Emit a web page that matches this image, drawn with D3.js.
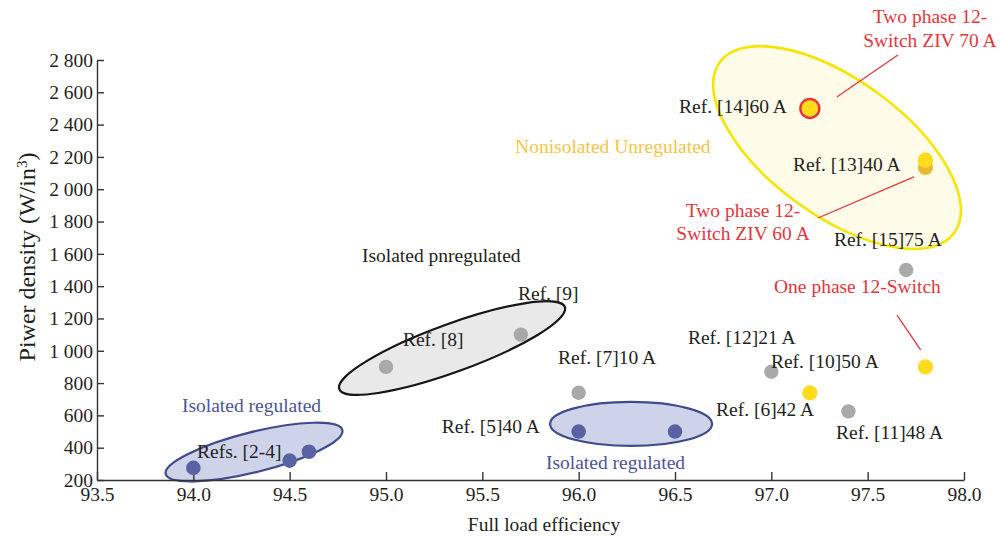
<!DOCTYPE html>
<html>
<head>
<meta charset="utf-8">
<script src="https://cdn.jsdelivr.net/npm/d3@7"></script>
<style>
  body { margin: 0; background: #fff; }
  svg text { font-family: "Liberation Serif", "Times New Roman", serif; }
</style>
</head>
<body>
<svg id="chart" width="1000" height="537"></svg>
<script>
// ---- axis ticks ----
const xTicks = [93.5, 94.0, 94.5, 95.0, 95.5, 96.0, 96.5, 97.0, 97.5, 98.0];
const yTicks = [200, 400, 600, 800, 1000, 1200, 1400, 1600, 1800, 2000, 2200, 2400, 2600, 2800];

// ---- converters: full load efficiency (%) vs power density (W/in^3) ----
// isolated regulated (blue)
const blueEff     = [94.0, 94.5, 94.6, 96.0, 96.5];
const blueDensity = [275, 320, 375, 500, 500];
// isolated unregulated and other references (gray)
const grayEff     = [95.0, 95.7, 96.0, 97.0, 97.4, 97.7];
const grayDensity = [900, 1100, 740, 870, 625, 1500];
// nonisolated (yellow)
const goldEff       = [97.8];
const goldDensity   = [2135];
const yellowEff     = [97.2, 97.8, 97.8];
const yellowDensity = [740, 900, 2180];
// highlighted design, ref. [14]
const ringEff     = [97.2];
const ringDensity = [2500];

// ---- group outlines: centre in data units, radii in px ----
const groupCx  = [94.315, 95.343, 96.272, 97.341];
const groupCy  = [373, 1017, 547, 2258];
const groupRx  = [91, 120, 81, 145];
const groupRy  = [20, 24, 22, 68];
const groupRot = [-14, -20, 0, 36];
const groupKind = ["blue", "gray", "blue", "yellow"];

// ---- annotation texts (anchored in data units) ----
const labelText = [
  "Refs. [2-4]", "Isolated regulated", "Isolated pnregulated", "Ref. [9]", "Ref. [8]",
  "Ref. [7]10 A", "Ref. [5]40 A", "Isolated regulated", "Ref. [15]75 A", "One phase 12-Switch",
  "Ref. [12]21 A", "Ref. [10]50 A", "Ref. [6]42 A", "Ref. [11]48 A",
  "Two phase 12-", "Switch ZIV 70 A", "Ref. [14]60 A", "Ref. [13]40 A",
  "Two phase 12-", "Switch ZIV 60 A", "Nonisolated Unregulated"
];
const labelX = [
  94.019, 93.941, 94.875, 95.685, 95.088,
  95.893, 95.290, 95.830, 97.325, 97.014,
  96.567, 96.998, 96.713, 97.336,
  97.823, 97.823, 96.521, 97.112,
  96.853, 96.853, 95.670
];
const labelY = [
  336, 621, 1550, 1314, 1030,
  918, 491, 268, 1649, 1358,
  1042, 893, 596, 454,
  3029, 2880, 2472, 2113,
  1828, 1686, 2224
];
const labelKind = [
  "black", "blue", "black", "black", "black",
  "black", "black", "blue", "black", "red",
  "black", "black", "black", "black",
  "redc", "redc", "black", "black",
  "redc", "redc", "orange"
];

// ---- red leader lines ----
const leaderX1 = [97.657, 97.740, 97.652];
const leaderY1 = [2831, 2076, 1221];
const leaderX2 = [97.340, 97.242, 97.775];
const leaderY2 = [2571, 1822, 1005];

const FONT = "'Liberation Serif', 'Times New Roman', serif";
const svg = d3.select("#chart");
const x = d3.scaleLinear().domain([93.5, 98.0]).range([97, 964]);
const y = d3.scaleLinear().domain([200, 2800]).range([480, 60]);

const colors = {
  blueFill: "#cfd3ea", blueStroke: "#3e4a8d", blueDot: "#5963a3", blueText: "#4b5597",
  grayFill: "#e9e9e9", grayStroke: "#151515", grayDot: "#a9a9a9",
  yellowFill: "#fffbe9", yellowStroke: "#f6e500", yellowDot: "#fedb1c", goldDot: "#e9b934",
  red: "#e5353c", orange: "#f7c449", black: "#231f20", axis: "#333333"
};

// group outlines
const ellipseStyle = {
  blue:   { fill: colors.blueFill,   stroke: colors.blueStroke,   w: 2.2 },
  gray:   { fill: colors.grayFill,   stroke: colors.grayStroke,   w: 2.2 },
  yellow: { fill: colors.yellowFill, stroke: colors.yellowStroke, w: 2.6 }
};
svg.append("g").selectAll("ellipse")
  .data(groupCx.map((cx, i) => ({ cx, cy: groupCy[i], rx: groupRx[i], ry: groupRy[i], rot: groupRot[i], kind: groupKind[i] })))
  .join("ellipse")
  .attr("transform", d => `translate(${x(d.cx)},${y(d.cy)}) rotate(${d.rot})`)
  .attr("rx", d => d.rx).attr("ry", d => d.ry)
  .attr("fill", d => ellipseStyle[d.kind].fill)
  .attr("stroke", d => ellipseStyle[d.kind].stroke)
  .attr("stroke-width", d => ellipseStyle[d.kind].w);

// axes
const fmtY = d3.formatLocale({ decimal: ".", thousands: " ", grouping: [3], currency: ["", ""] }).format(",");
const xAxis = d3.axisBottom(x).tickValues(xTicks).tickFormat(d3.format(".1f"))
  .tickSizeInner(-8).tickSizeOuter(0).tickPadding(7);
const yAxis = d3.axisLeft(y).tickValues(yTicks).tickFormat(fmtY)
  .tickSizeInner(-7).tickSizeOuter(0).tickPadding(4);

const gx = svg.append("g").attr("transform", `translate(0,${y(200)})`).call(xAxis);
const gy = svg.append("g").attr("transform", `translate(${x(93.5)},0)`).call(yAxis);
[gx, gy].forEach(g => {
  g.attr("font-family", FONT).attr("font-size", 19.5);
  g.select(".domain").attr("stroke", colors.axis).attr("stroke-width", 1.4);
  g.selectAll(".tick line").attr("stroke", colors.axis).attr("stroke-width", 1.4);
  g.selectAll(".tick text").attr("fill", colors.black);
});

// axis titles
svg.append("text")
  .attr("x", 544).attr("y", 531).attr("text-anchor", "middle")
  .attr("fill", colors.black).style("font-size", "19.5px")
  .text("Full load efficiency");
const yt = svg.append("text")
  .attr("transform", "translate(35,257) rotate(-90)").attr("text-anchor", "middle")
  .attr("fill", colors.black).style("font-size", "24px");
yt.append("tspan").text("Piwer density (W/in");
yt.append("tspan").attr("baseline-shift", "super").style("font-size", "15px").text("3");
yt.append("tspan").text(")");

// leader lines
svg.append("g").selectAll("line")
  .data(leaderX1.map((v, i) => ({ x1: v, y1: leaderY1[i], x2: leaderX2[i], y2: leaderY2[i] })))
  .join("line")
  .attr("x1", d => x(d.x1)).attr("y1", d => y(d.y1))
  .attr("x2", d => x(d.x2)).attr("y2", d => y(d.y2))
  .attr("stroke", colors.red).attr("stroke-width", 1.3);

// points
function dots(effs, dens, fill, r) {
  svg.append("g").selectAll("circle")
    .data(effs.map((e, i) => ({ e, d: dens[i] })))
    .join("circle")
    .attr("cx", d => x(d.e)).attr("cy", d => y(d.d))
    .attr("r", r).attr("fill", fill);
}
dots(blueEff, blueDensity, colors.blueDot, 7.3);
dots(grayEff, grayDensity, colors.grayDot, 7.2);
dots(goldEff, goldDensity, colors.goldDot, 7.6);
dots(yellowEff, yellowDensity, colors.yellowDot, 7.6);
svg.append("g").selectAll("circle")
  .data(ringEff.map((e, i) => ({ e, d: ringDensity[i] })))
  .join("circle")
  .attr("cx", d => x(d.e)).attr("cy", d => y(d.d))
  .attr("r", 9.5).attr("fill", colors.yellowDot)
  .attr("stroke", colors.red).attr("stroke-width", 2.4);

// annotation texts
const textColor = { black: colors.black, blue: colors.blueText, red: colors.red, redc: colors.red, orange: colors.orange };
svg.append("g").selectAll("text")
  .data(labelText.map((t, i) => ({ t, lx: labelX[i], ly: labelY[i], kind: labelKind[i] })))
  .join("text")
  .attr("x", d => x(d.lx)).attr("y", d => y(d.ly))
  .attr("text-anchor", d => d.kind === "redc" ? "middle" : "start")
  .attr("fill", d => textColor[d.kind])
  .style("font-size", "19.5px")
  .text(d => d.t);
</script>
</body>
</html>
